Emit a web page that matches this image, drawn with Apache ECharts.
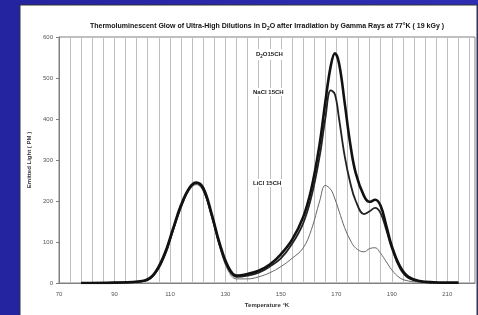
<!DOCTYPE html>
<html>
<head>
<meta charset="UTF-8">
<title>Thermoluminescent Glow</title>
<script src="https://cdn.jsdelivr.net/npm/echarts@6/dist/echarts.min.js"></script>
<style>
  html, body { margin: 0; padding: 0; }
  body { width: 478px; height: 315px; background: linear-gradient(90deg, #2424a0 0%, #2e2eb4 100%); }
  #chart { width: 478px; height: 315px; }
</style>
</head>
<body>
<div id="chart"></div>
<script>
// temperatures (°K) at which the curves were read
const temps = [78, 90, 100, 104, 108, 111, 114, 117, 119.5, 122, 125, 128, 131, 134, 138, 142, 146, 150, 154, 158, 161, 164, 166, 168, 169.5, 171, 173, 175, 177, 180, 182, 184, 186, 188, 190, 193, 196, 200, 205, 214];
const d2o  = [0, 1, 5, 20, 70, 130, 190, 232, 245, 232, 170, 95, 40, 18, 22, 30, 45, 70, 105, 160, 230, 340, 440, 530, 560, 535, 440, 340, 268, 212, 198, 203, 188, 140, 90, 40, 15, 5, 2, 1];
const nacl = [0, 1, 4, 18, 66, 126, 186, 230, 243, 228, 165, 90, 36, 15, 18, 25, 40, 60, 95, 145, 210, 310, 400, 470, 460, 400, 310, 245, 200, 168, 175, 183, 170, 130, 85, 35, 12, 4, 1, 0];
const licl = [0, 0, 3, 16, 62, 122, 182, 226, 240, 224, 160, 86, 30, 10, 10, 15, 25, 40, 60, 85, 130, 200, 238, 228, 205, 175, 135, 105, 85, 76, 84, 86, 72, 52, 32, 12, 5, 2, 0, 0];

const seriesNames = ['D2O15CH', 'NaCl 15CH', 'LiCl 15CH'];
const T0 = 70;   // first label on the temperature axis

function toPoints(vals) {
    return temps.map((t, i) => [t - T0, vals[i]]);
}

var chart = echarts.init(document.getElementById('chart'), null, { renderer: 'canvas' });

var font = 'Liberation Sans, Arial, sans-serif';

function seriesLabel(text, x, y) {
    return {
        type: 'text', left: x, top: y, z: 100,
        style: {
            text: text, fontFamily: font, fontSize: 6, fontWeight: 'bold', fill: '#222',
            backgroundColor: '#ffffff', padding: [1, 1, 1, 1],
            rich: { s: { fontSize: 4.5, fontWeight: 'bold', padding: [4, 0, 0, 0], fill: '#222' } }
        }
    };
}

var option = {
    animation: false,
    backgroundColor: 'transparent',
    graphic: [
        {
            type: 'rect', z: -10,
            shape: { x: 20, y: 5, width: 457, height: 312 },
            style: { fill: '#ffffff', stroke: '#333333', lineWidth: 1 }
        },
        seriesLabel('D{s|2}O15CH', 255, 49),
        seriesLabel('NaCl 15CH', 252, 88),
        seriesLabel('LiCl 15CH', 252, 179)
    ],
    title: {
        text: 'Thermoluminescent Glow of Ultra-High Dilutions in D{s|2}O after Irradiation by Gamma Rays at 77°K ( 19 kGy )',
        left: 262,
        textAlign: 'center',
        top: 17,
        textStyle: {
            fontFamily: font, fontSize: 7, fontWeight: 'bold', color: '#111',
            rich: { s: { fontSize: 5, fontWeight: 'bold', color: '#111', padding: [4, 0, 0, 0] } }
        }
    },
    grid: {
        left: 59, right: 1, top: 37, bottom: 32,
        show: true, borderColor: '#808080', borderWidth: 1
    },
    xAxis: {
        type: 'value',
        min: 0, max: 150, interval: 4,
        name: 'Temperature °K',
        nameLocation: 'middle',
        nameGap: 15,
        nameTextStyle: { fontFamily: font, fontSize: 6, fontWeight: 'bold', color: '#333' },
        axisLine: { lineStyle: { color: '#808080' } },
        axisTick: { show: false },
        axisLabel: {
            fontFamily: font, fontSize: 6, color: '#555', margin: 8,
            formatter: function (v) { return v % 20 === 0 ? String(v + T0) : ''; }
        },
        splitLine: { show: true, lineStyle: { color: '#c0c0c0', width: 1 } }
    },
    yAxis: {
        type: 'value',
        min: 0, max: 600, interval: 100,
        name: 'Emitted Light ( PM )',
        nameLocation: 'middle',
        nameGap: 27,
        nameTextStyle: { fontFamily: font, fontSize: 6, fontWeight: 'bold', color: '#333' },
        axisLine: { show: true, lineStyle: { color: '#808080' } },
        axisTick: { show: true, length: 3, lineStyle: { color: '#808080' } },
        axisLabel: { fontFamily: font, fontSize: 6, color: '#555', margin: 6 },
        splitLine: { show: false }
    },
    series: [
        {
            name: seriesNames[0], type: 'line', smooth: 0.4, symbol: 'none',
            data: toPoints(d2o), z: 5,
            lineStyle: { color: '#111', width: 2.6 }
        },
        {
            name: seriesNames[1], type: 'line', smooth: 0.4, symbol: 'none',
            data: toPoints(nacl), z: 4,
            lineStyle: { color: '#222', width: 1.8 }
        },
        {
            name: seriesNames[2], type: 'line', smooth: 0.4, symbol: 'none',
            data: toPoints(licl), z: 3,
            lineStyle: { color: '#666', width: 1 }
        }
    ]
};

chart.setOption(option);
</script>
</body>
</html>
